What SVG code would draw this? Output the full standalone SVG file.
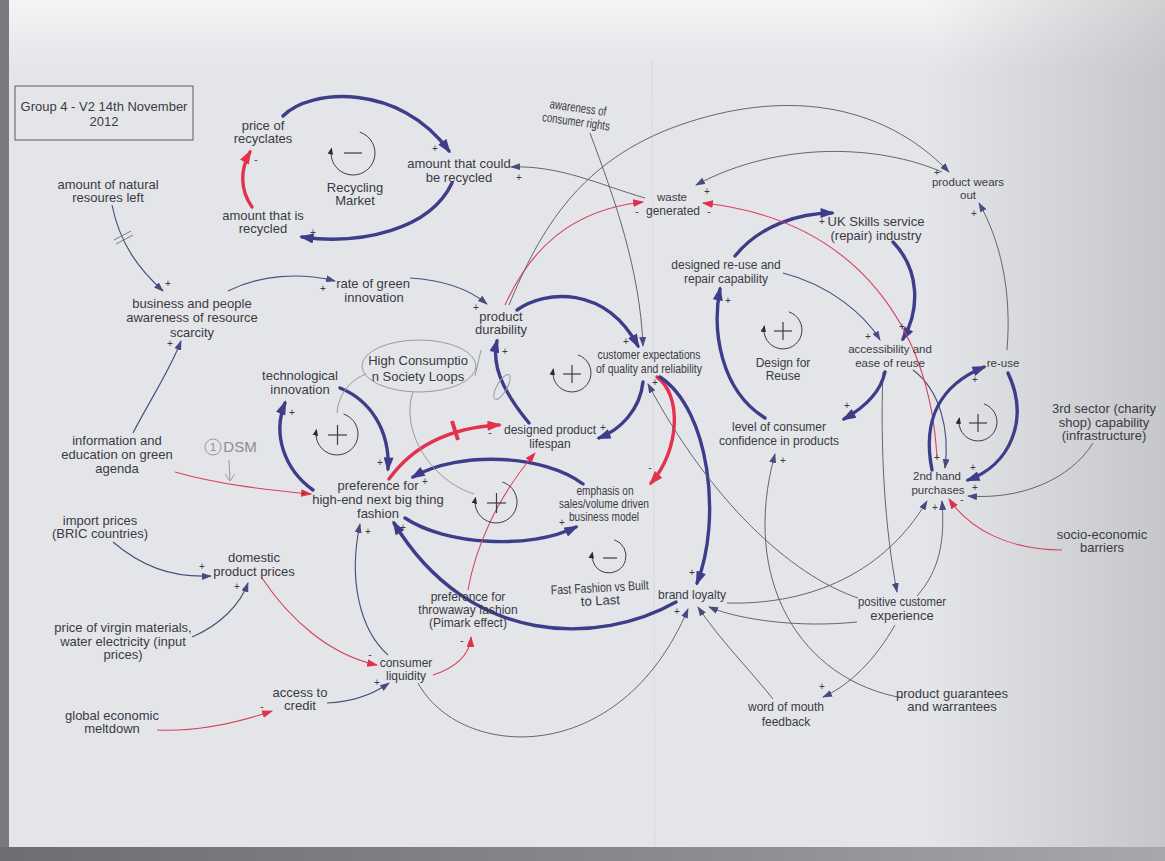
<svg xmlns="http://www.w3.org/2000/svg" width="1165" height="861" viewBox="0 0 1165 861">
<defs>
  <style>
    .t { font-family: "Liberation Sans", Arial, sans-serif; fill: #3a3a44; text-anchor: middle; font-size: 13px; }
    .m { font-size: 12px; }
    .r { font-size: 11.5px; }
    .p { font-family: "Liberation Sans", Arial, sans-serif; fill: #3a3a44; text-anchor: middle; font-size: 10px; }
    .pen { font-family: "Liberation Sans", Arial, sans-serif; fill: #8c8c90; text-anchor: middle; }
    .box { fill: none; stroke: #5a5a60; stroke-width: 1; }
    .thk { fill: none; stroke: #3d3d8a; stroke-width: 3.4; stroke-linecap: round; marker-end: url(#ahThk); }
    .thn { fill: none; stroke: #4e4e7c; stroke-width: 1.15; marker-end: url(#ahThn); }
    .gry { fill: none; stroke: #64646e; stroke-width: 1; marker-end: url(#ahThn); }
    .rthk { fill: none; stroke: #e3324e; stroke-width: 3.4; stroke-linecap: round; marker-end: url(#ahRthk); }
    .rthn { fill: none; stroke: #d9415c; stroke-width: 1.1; marker-end: url(#ahRthn); }
    .loop { fill: none; stroke: #3c3c42; stroke-width: 1; marker-end: url(#ahLoop); }
    .sign { fill: none; stroke: #3c3c42; stroke-width: 1.2; }
    .pencil { fill: none; stroke: #9a9a9e; stroke-width: 1; }
  </style>
  <marker id="ahThk" viewBox="0 0 10 7" refX="8" refY="3.5" markerWidth="15" markerHeight="10" markerUnits="userSpaceOnUse" orient="auto">
    <path d="M0,0 L10,3.5 L0,7 z" fill="#3d3d8a"/>
  </marker>
  <marker id="ahThn" viewBox="0 0 10 7" refX="9" refY="3.5" markerWidth="10" markerHeight="7" markerUnits="userSpaceOnUse" orient="auto">
    <path d="M0,0 L10,3.5 L0,7 z" fill="#4a4a80"/>
  </marker>
  <marker id="ahRthk" viewBox="0 0 10 7" refX="8" refY="3.5" markerWidth="15" markerHeight="10" markerUnits="userSpaceOnUse" orient="auto">
    <path d="M0,0 L10,3.5 L0,7 z" fill="#e3324e"/>
  </marker>
  <marker id="ahRthn" viewBox="0 0 10 7" refX="9" refY="3.5" markerWidth="11" markerHeight="8" markerUnits="userSpaceOnUse" orient="auto">
    <path d="M0,0 L10,3.5 L0,7 z" fill="#e0304c"/>
  </marker>
  <marker id="ahLoop" viewBox="0 0 10 8" refX="8" refY="4" markerWidth="7" markerHeight="7" markerUnits="userSpaceOnUse" orient="auto">
    <path d="M0,0 L10,4 L0,8 z" fill="#2c2c32"/>
  </marker>
  <linearGradient id="shadeR" x1="0" y1="0" x2="1" y2="0">
    <stop offset="0" stop-color="#8e8e92" stop-opacity="0"/>
    <stop offset="0.8" stop-color="#8e8e92" stop-opacity="0"/>
    <stop offset="1" stop-color="#8e8e92" stop-opacity="0.35"/>
  </linearGradient>
  <linearGradient id="shadeT" x1="0" y1="0" x2="0" y2="1">
    <stop offset="0" stop-color="#f4f4f6" stop-opacity="1"/>
    <stop offset="1" stop-color="#f4f4f6" stop-opacity="0"/>
  </linearGradient>
  <linearGradient id="shadeB" x1="0" y1="0" x2="1" y2="0">
    <stop offset="0" stop-color="#6e6e72"/>
    <stop offset="0.6" stop-color="#8c8c90"/>
    <stop offset="1" stop-color="#a8a8ac"/>
  </linearGradient>
</defs>

<!-- sheet of paper -->
<rect width="1165" height="861" fill="#e4e5e9"/>
<rect width="1165" height="70" fill="url(#shadeT)"/>
<rect width="1165" height="861" fill="url(#shadeR)"/>
<rect x="0" y="0" width="9" height="861" fill="#7a7a7e"/>
<rect x="0" y="847" width="1165" height="14" fill="url(#shadeB)"/>
<line x1="652" y1="60" x2="655" y2="847" stroke="#dcdde1" stroke-width="1.5"/>

<!-- connectors -->
<g id="connectors">
  <!-- Recycling Market loop -->
  <path class="thk" d="M283,116 C310,88 400,83 449,151"/>
  <path class="thk" d="M452,183 C430,230 360,245 302,237"/>
  <path class="rthk" d="M252,207 C240,190 240,170 250,152"/>

  <path class="thn" d="M112,205 C120,245 140,270 163,291"/>
  <line x1="114" y1="240" x2="131" y2="231" stroke="#7a7a84" stroke-width="1"/>
  <line x1="116" y1="244" x2="133" y2="235" stroke="#7a7a84" stroke-width="1"/>
  <path class="thn" d="M228,291 C260,275 300,272 335,281"/>
  <path class="thn" d="M410,278 C445,280 470,290 487,304"/>
  <path class="thn" d="M133,433 C150,400 170,370 181,341"/>
  <path class="rthn" d="M175,472 C220,485 270,490 311,494"/>

  <!-- preference / technology loop -->
  <path class="thk" d="M313,490 C285,470 272,435 285,403"/>
  <path class="thk" d="M340,388 C370,400 390,430 388,469"/>

  <!-- preference / lifespan / durability -->
  <path class="rthk" d="M389,479 C410,450 445,428 499,425"/>
  <line x1="452" y1="421" x2="458" y2="440" stroke="#e3324e" stroke-width="4"/>
  <path class="thk" d="M529,423 C510,400 490,370 497,341"/>
  <path class="thk" d="M517,310 C545,290 605,285 638,346"/>
  <path class="gry" d="M590,133 C615,200 640,270 643,346"/>
  <path class="thk" d="M643,382 C640,410 620,430 599,438"/>
  <path class="rthk" d="M657,377 C682,395 680,450 651,483"/>
  <path class="thk" d="M660,377 C710,410 722,520 697,583"/>
  <path class="thk" d="M583,484 C545,455 460,450 413,477"/>
  <path class="thk" d="M405,518 C445,545 530,550 576,527"/>
  <path class="thk" d="M676,602 C600,645 470,648 394,523"/>
  <path class="rthn" d="M468,590 C475,550 495,500 535,453"/>

  <!-- economy -->
  <path class="rthn" d="M433,675 C455,668 470,655 471,637"/>
  <path class="thn" d="M388,655 C360,630 348,580 360,524"/>
  <path class="rthn" d="M262,578 C290,620 330,655 377,665"/>
  <path class="thn" d="M113,542 C140,565 170,578 211,576"/>
  <path class="thn" d="M192,637 C220,625 240,605 248,583"/>
  <path class="rthn" d="M157,730 C200,732 240,722 272,711"/>
  <path class="thn" d="M327,703 C350,702 372,695 389,683"/>
  <path class="gry" d="M418,683 C460,760 620,770 688,609"/>

  <!-- brand loyalty -->
  <path class="gry" d="M773,699 C750,670 720,640 698,607"/>
  <path class="gry" d="M857,622 C800,628 740,620 709,607"/>
  <path class="gry" d="M727,603 C800,605 880,580 927,501"/>
  <path class="gry" d="M858,598 C790,575 710,500 648,384"/>
  <path class="gry" d="M903,698 C800,680 740,580 775,454"/>
  <path class="gry" d="M883,372 C880,450 885,530 897,592"/>
  <path class="gry" d="M895,625 C875,660 850,685 823,697"/>
  <path class="gry" d="M917,596 C940,570 945,540 942,501"/>

  <!-- design for reuse loop -->
  <path class="thk" d="M885,372 C880,395 860,410 844,419"/>
  <path class="thn" d="M913,370 C940,390 950,430 945,468"/>
  <path class="thk" d="M765,418 C720,390 712,330 720,289"/>
  <path class="thk" d="M735,256 C760,225 800,213 832,213"/>
  <path class="thk" d="M893,242 C920,270 920,310 903,339"/>
  <path class="thn" d="M783,273 C830,285 865,315 880,340"/>

  <!-- waste -->
  <path class="gry" d="M645,198 C600,185 560,165 511,167"/>
  <path class="rthn" d="M505,305 C530,250 570,210 643,202"/>
  <path class="gry" d="M509,305 C540,230 580,160 680,125 S880,100 949,172"/>
  <path class="gry" d="M942,172 C880,145 780,140 696,185"/>
  <path class="rthn" d="M937,458 C930,330 860,220 703,203"/>
  <path class="gry" d="M1007,350 C1012,290 1000,240 979,203"/>

  <!-- re-use loop -->
  <path class="thk" d="M932,470 C922,420 940,385 984,367"/>
  <path class="thk" d="M1008,373 C1030,420 1010,465 968,480"/>
  <path class="gry" d="M1093,443 C1070,480 1020,500 968,496"/>
  <path class="rthn" d="M1062,550 C1010,550 970,530 949,499"/>
</g>

<!-- polarity signs -->
<g id="polarity">
  <text class="p" x="435" y="152">+</text>
  <text class="p" x="313" y="236">+</text>
  <text class="p" x="256" y="163">-</text>
  <text class="p" x="519" y="181">+</text>
  <text class="p" x="168" y="287">+</text>
  <text class="p" x="323" y="292">+</text>
  <text class="p" x="476" y="311">+</text>
  <text class="p" x="170" y="347">+</text>
  <text class="p" x="292" y="416">+</text>
  <text class="p" x="380" y="466">+</text>
  <text class="p" x="303" y="496">-</text>
  <text class="p" x="490" y="436">-</text>
  <text class="p" x="505" y="355">+</text>
  <text class="p" x="626" y="345">+</text>
  <text class="p" x="603" y="431">+</text>
  <text class="p" x="655" y="386">+</text>
  <text class="p" x="650" y="471">-</text>
  <text class="p" x="692" y="576">+</text>
  <text class="p" x="425" y="485">+</text>
  <text class="p" x="562" y="526">+</text>
  <text class="p" x="403" y="531">+</text>
  <text class="p" x="368" y="535">+</text>
  <text class="p" x="202" y="570">+</text>
  <text class="p" x="237" y="590">+</text>
  <text class="p" x="370" y="658">-</text>
  <text class="p" x="377" y="686">+</text>
  <text class="p" x="262" y="710">-</text>
  <text class="p" x="462" y="644">-</text>
  <text class="p" x="677" y="615">+</text>
  <text class="p" x="637" y="215">-</text>
  <text class="p" x="707" y="195">+</text>
  <text class="p" x="709" y="215">-</text>
  <text class="p" x="937" y="176">+</text>
  <text class="p" x="974" y="217">+</text>
  <text class="p" x="822" y="225">+</text>
  <text class="p" x="728" y="304">+</text>
  <text class="p" x="868" y="340">+</text>
  <text class="p" x="902" y="330">+</text>
  <text class="p" x="847" y="409">+</text>
  <text class="p" x="783" y="464">+</text>
  <text class="p" x="975" y="383">+</text>
  <text class="p" x="937" y="461">+</text>
  <text class="p" x="973" y="471">+</text>
  <text class="p" x="975" y="491">+</text>
  <text class="p" x="935" y="511">+</text>
  <text class="p" x="962" y="503">-</text>
  <text class="p" x="822" y="690">+</text>
</g>

<!-- loop markers -->
<g id="loop-recycling">
  <path class="loop" d="M359.8,132.1 A22,22 0 1 1 331.4,148.8"/>
  <line class="sign" x1="344" y1="153" x2="362" y2="153"/>
</g>
<g id="loop-technology">
  <path class="loop" d="M343.5,414 A21,21 0 1 1 316.4,430"/>
  <line class="sign" x1="328" y1="435" x2="347" y2="435"/>
  <line class="sign" x1="337.5" y1="425" x2="337.5" y2="445"/>
</g>
<g id="loop-expectations">
  <path class="loop" d="M577.9,354.9 A19,19 0 1 1 553.3,369.4"/>
  <line class="sign" x1="563" y1="374" x2="581" y2="374"/>
  <line class="sign" x1="572" y1="365" x2="572" y2="383"/>
</g>
<g id="loop-consumption">
  <path class="loop" d="M502.5,482 A21,21 0 1 1 475.4,498"/>
  <line class="sign" x1="487" y1="503" x2="506" y2="503"/>
  <line class="sign" x1="496.5" y1="493" x2="496.5" y2="513"/>
</g>
<g id="loop-fastfashion">
  <path class="loop" d="M614.3,539.8 A17,17 0 1 1 592.3,552.8"/>
  <line class="sign" x1="603" y1="558" x2="617" y2="558"/>
</g>
<g id="loop-designreuse">
  <path class="loop" d="M788.9,311.9 A19,19 0 1 1 764.3,326.4"/>
  <line class="sign" x1="774" y1="331" x2="792" y2="331"/>
  <line class="sign" x1="783" y1="322" x2="783" y2="340"/>
</g>
<g id="loop-reuse">
  <path class="loop" d="M983.9,403.9 A19,19 0 1 1 959.3,418.4"/>
  <line class="sign" x1="969" y1="423" x2="987" y2="423"/>
  <line class="sign" x1="978" y1="414" x2="978" y2="432"/>
</g>

<!-- pencil annotations -->
<g id="note-high-consumption">
  <ellipse class="pencil" cx="419" cy="366" rx="57" ry="26"/>
  <text class="t" x="418" y="365" font-size="14">High Consumptio</text>
  <text class="t" x="418" y="381" font-size="14">n Society Loops</text>
  <line class="pencil" x1="481" y1="350" x2="475" y2="376"/>
  <ellipse class="pencil" cx="502" cy="387" rx="5" ry="14" transform="rotate(30 502 387)"/>
  <path class="pencil" d="M337,413 C338,395 350,380 366,374"/>
  <path class="pencil" d="M413,392 C400,430 430,480 474,494"/>
</g>
<g id="note-dsm">
  <circle class="pencil" cx="213" cy="447" r="8"/>
  <text class="pen" x="213" y="451" font-size="11">1</text>
  <text class="pen" x="240" y="452" font-size="15">DSM</text>
  <path class="pencil" d="M229,460 L230,481 M225,474 L230,481 L235,474"/>
</g>

<!-- nodes -->
<g id="n-title">
  <rect class="box" x="15" y="86" width="178" height="54"/>
  <text class="t" x="104" y="111">Group 4 - V2 14th November</text>
  <text class="t" x="104" y="126">2012</text>
</g>
<g id="n-price-recyclates">
  <text class="t" x="263" y="130">price of</text>
  <text class="t" x="263" y="143">recyclates</text>
</g>
<g id="n-amount-recycled">
  <text class="t" x="263" y="220">amount that is</text>
  <text class="t" x="263" y="233">recycled</text>
</g>
<g id="n-recycling-market">
  <text class="t" x="355" y="192">Recycling</text>
  <text class="t" x="355" y="205">Market</text>
</g>
<g id="n-amount-could">
  <text class="t" x="459" y="168" font-size="12.5">amount that could</text>
  <text class="t" x="459" y="182" font-size="12.5">be recycled</text>
</g>
<g id="n-consumer-rights">
  <g transform="rotate(8 577 115)">
    <text class="t" x="577" y="112" font-size="11" textLength="57" lengthAdjust="spacingAndGlyphs">awareness of</text>
    <text class="t" x="577" y="126" font-size="11" textLength="68" lengthAdjust="spacingAndGlyphs">consumer rights</text>
  </g>
</g>
<g id="n-waste">
  <text class="t r" x="672" y="201">waste</text>
  <text class="t m" x="673" y="215">generated</text>
</g>
<g id="n-designed-reuse">
  <text class="t m" x="726" y="269">designed re-use and</text>
  <text class="t m" x="726" y="283">repair capability</text>
</g>
<g id="n-uk-skills">
  <text class="t" x="876" y="226" font-size="11">UK Skills service</text>
  <text class="t" x="876" y="240" font-size="11">(repair) industry</text>
</g>
<g id="n-wears-out">
  <text class="t r" x="968" y="186">product wears</text>
  <text class="t r" x="968" y="199">out</text>
</g>
<g id="n-natural">
  <text class="t" x="108" y="189">amount of natural</text>
  <text class="t" x="108" y="202">resoures left</text>
</g>
<g id="n-awareness-scarcity">
  <text class="t" x="192" y="308">business and people</text>
  <text class="t" x="192" y="322">awareness of resource</text>
  <text class="t" x="192" y="337">scarcity</text>
</g>
<g id="n-green-innovation">
  <text class="t" x="373" y="288">rate of green</text>
  <text class="t" x="374" y="302">innovation</text>
</g>
<g id="n-durability">
  <text class="t" x="501" y="321">product</text>
  <text class="t" x="501" y="334">durability</text>
</g>
<g id="n-tech">
  <text class="t" x="300" y="380">technological</text>
  <text class="t" x="300" y="394">innovation</text>
</g>
<g id="n-expectations">
  <text class="t" x="649" y="359" font-size="11" textLength="103" lengthAdjust="spacingAndGlyphs">customer expectations</text>
  <text class="t" x="649" y="373" font-size="11" textLength="106" lengthAdjust="spacingAndGlyphs">of quality and reliability</text>
</g>
<g id="n-lifespan">
  <text class="t m" x="550" y="434">designed product</text>
  <text class="t m" x="550" y="448">lifespan</text>
</g>
<g id="n-info">
  <text class="t" x="117" y="445">information and</text>
  <text class="t" x="117" y="459">education on green</text>
  <text class="t" x="117" y="473">agenda</text>
</g>
<g id="n-preference">
  <text class="t" x="378" y="490" font-size="13.5">preference for</text>
  <text class="t" x="378" y="504" font-size="13.5">high-end next big thing</text>
  <text class="t" x="378" y="518" font-size="13.5">fashion</text>
</g>
<g id="n-emphasis">
  <text class="t" x="605" y="495" font-size="11" textLength="57" lengthAdjust="spacingAndGlyphs">emphasis on</text>
  <text class="t" x="604" y="508" font-size="11" textLength="90" lengthAdjust="spacingAndGlyphs">sales/volume driven</text>
  <text class="t" x="604" y="521" font-size="11" textLength="70" lengthAdjust="spacingAndGlyphs">business model</text>
</g>
<g id="n-fastfashion">
  <g transform="rotate(-3 600 594)">
    <text class="t" x="600" y="592" font-size="12" textLength="98" lengthAdjust="spacingAndGlyphs">Fast Fashion vs Built</text>
    <text class="t" x="600" y="605" font-size="12">to Last</text>
  </g>
</g>
<g id="n-brand">
  <text class="t m" x="692" y="599">brand loyalty</text>
</g>
<g id="n-throwaway">
  <text class="t m" x="468" y="601">preference for</text>
  <text class="t m" x="468" y="614">throwaway fashion</text>
  <text class="t m" x="468" y="627">(Pimark effect)</text>
</g>
<g id="n-liquidity">
  <text class="t m" x="406" y="667">consumer</text>
  <text class="t m" x="406" y="680">liquidity</text>
</g>
<g id="n-import">
  <text class="t" x="100" y="525">import prices</text>
  <text class="t" x="100" y="538">(BRIC countries)</text>
</g>
<g id="n-domestic">
  <text class="t" x="254" y="562">domestic</text>
  <text class="t" x="254" y="576">product prices</text>
</g>
<g id="n-virgin">
  <text class="t" x="123" y="632">price of virgin materials,</text>
  <text class="t" x="123" y="646">water electricity (input</text>
  <text class="t" x="123" y="659">prices)</text>
</g>
<g id="n-credit">
  <text class="t" x="300" y="697">access to</text>
  <text class="t" x="300" y="710">credit</text>
</g>
<g id="n-meltdown">
  <text class="t" x="112" y="720">global economic</text>
  <text class="t" x="112" y="733">meltdown</text>
</g>
<g id="n-design-reuse-label">
  <text class="t m" x="783" y="367">Design for</text>
  <text class="t m" x="783" y="380">Reuse</text>
</g>
<g id="n-confidence">
  <text class="t m" x="779" y="431">level of consumer</text>
  <text class="t m" x="779" y="445">confidence in products</text>
</g>
<g id="n-accessibility">
  <text class="t r" x="890" y="353">accessibility and</text>
  <text class="t r" x="890" y="367">ease of reuse</text>
</g>
<g id="n-reuse">
  <text class="t r" x="1003" y="367">re-use</text>
</g>
<g id="n-secondhand">
  <text class="t r" x="937" y="480">2nd hand</text>
  <text class="t r" x="938" y="494">purchases</text>
</g>
<g id="n-third-sector">
  <text class="t" x="1104" y="413" font-size="11">3rd sector (charity</text>
  <text class="t" x="1104" y="427" font-size="11">shop) capability</text>
  <text class="t" x="1104" y="440" font-size="11">(infrastructure)</text>
</g>
<g id="n-socio">
  <text class="t" x="1102" y="539" font-size="11">socio-economic</text>
  <text class="t" x="1102" y="552" font-size="11">barriers</text>
</g>
<g id="n-positive">
  <text class="t" x="902" y="606" font-size="11.5" textLength="88" lengthAdjust="spacingAndGlyphs">positive customer</text>
  <text class="t" x="902" y="620" font-size="11.5">experience</text>
</g>
<g id="n-guarantees">
  <text class="t" x="952" y="698" font-size="11.3">product guarantees</text>
  <text class="t" x="952" y="711" font-size="11.3">and warrantees</text>
</g>
<g id="n-word-of-mouth">
  <text class="t m" x="786" y="711">word of mouth</text>
  <text class="t m" x="786" y="726">feedback</text>
</g>
</svg>
